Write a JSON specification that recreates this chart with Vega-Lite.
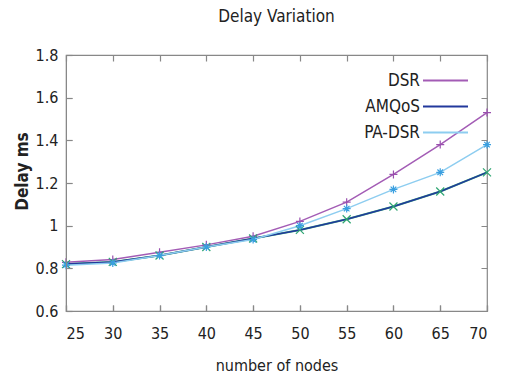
{
  "$schema": "https://vega.github.io/schema/vega-lite/v6.json",
  "width": 421,
  "height": 256,
  "autosize": "none",
  "padding": {"left": 66, "top": 55, "right": 20, "bottom": 69},
  "title": {"text": "Delay Variation", "fontSize": 17, "font": "DejaVu Sans Condensed, DejaVu Sans", "fontWeight": "normal", "color": "#222", "offset": 21, "anchor": "middle"},
  "config": {
    "view": {"stroke": "#888", "strokeWidth": 1.2},
    "font": "DejaVu Sans Condensed, DejaVu Sans"
  },
  "data": {"values": [
    {"nodes": 25, "delay": 0.828, "protocol": "DSR"},
    {"nodes": 30, "delay": 0.841, "protocol": "DSR"},
    {"nodes": 35, "delay": 0.875, "protocol": "DSR"},
    {"nodes": 40, "delay": 0.91, "protocol": "DSR"},
    {"nodes": 45, "delay": 0.95, "protocol": "DSR"},
    {"nodes": 50, "delay": 1.02, "protocol": "DSR"},
    {"nodes": 55, "delay": 1.11, "protocol": "DSR"},
    {"nodes": 60, "delay": 1.24, "protocol": "DSR"},
    {"nodes": 65, "delay": 1.38, "protocol": "DSR"},
    {"nodes": 70, "delay": 1.53, "protocol": "DSR"},
    {"nodes": 25, "delay": 0.82, "protocol": "AMQoS"},
    {"nodes": 30, "delay": 0.83, "protocol": "AMQoS"},
    {"nodes": 35, "delay": 0.86, "protocol": "AMQoS"},
    {"nodes": 40, "delay": 0.90, "protocol": "AMQoS"},
    {"nodes": 45, "delay": 0.94, "protocol": "AMQoS"},
    {"nodes": 50, "delay": 0.98, "protocol": "AMQoS"},
    {"nodes": 55, "delay": 1.03, "protocol": "AMQoS"},
    {"nodes": 60, "delay": 1.09, "protocol": "AMQoS"},
    {"nodes": 65, "delay": 1.16, "protocol": "AMQoS"},
    {"nodes": 70, "delay": 1.25, "protocol": "AMQoS"},
    {"nodes": 25, "delay": 0.815, "protocol": "PA-DSR"},
    {"nodes": 30, "delay": 0.825, "protocol": "PA-DSR"},
    {"nodes": 35, "delay": 0.86, "protocol": "PA-DSR"},
    {"nodes": 40, "delay": 0.90, "protocol": "PA-DSR"},
    {"nodes": 45, "delay": 0.935, "protocol": "PA-DSR"},
    {"nodes": 50, "delay": 1.0, "protocol": "PA-DSR"},
    {"nodes": 55, "delay": 1.08, "protocol": "PA-DSR"},
    {"nodes": 60, "delay": 1.17, "protocol": "PA-DSR"},
    {"nodes": 65, "delay": 1.25, "protocol": "PA-DSR"},
    {"nodes": 70, "delay": 1.38, "protocol": "PA-DSR"}
  ]},
  "encoding": {
    "x": {"field": "nodes", "type": "quantitative", "scale": {"domain": [25, 70], "nice": false, "zero": false},
          "axis": {"orient": "bottom", "zindex": 1, "title": "number of nodes", "titleFontSize": 16, "titleFontWeight": "normal", "titleColor": "#222", "titlePadding": 16,
                   "tickCount": 10, "tickSize": -6, "tickColor": "#888", "tickWidth": 1.2, "labelPadding": 20, "labelFontSize": 16, "labelColor": "#222", "labelFont": "DejaVu Sans Condensed, DejaVu Sans",
                   "domainColor": "#888", "grid": true, "gridColor": "#888", "gridWidth": 1.2, "gridDash": [6, 244]}},
    "y": {"field": "delay", "type": "quantitative", "scale": {"domain": [0.6, 1.8], "nice": false, "zero": false},
          "axis": {"orient": "left", "zindex": 1, "title": "Delay  ms", "titleFontSize": 17, "titleFontWeight": "bold", "titleColor": "#222", "titleX": -44, "titleY": 116, "titleAngle": 270, "titleAlign": "center", "titleBaseline": "middle",
                   "tickCount": 6, "tickSize": -6, "tickColor": "#888", "tickWidth": 1.2, "labelPadding": 14, "labelFontSize": 16, "labelColor": "#222", "labelFont": "DejaVu Sans Condensed, DejaVu Sans",
                   "labelExpr": "datum.value === 1 ? '1' : format(datum.value, '.1f')",
                   "domainColor": "#888", "grid": true, "gridColor": "#888", "gridWidth": 1.2, "gridDash": [6, 409]}}
  },
  "layer": [
    {
      "transform": [{"filter": "datum.protocol === 'AMQoS'"}],
      "mark": {"type": "line", "color": "#35a878", "strokeWidth": 2}
    },
    {
      "mark": {"type": "line", "strokeWidth": 1.5},
      "encoding": {
        "color": {"field": "protocol", "type": "nominal", "sort": ["DSR", "AMQoS", "PA-DSR"],
                  "scale": {"domain": ["DSR", "AMQoS", "PA-DSR"], "range": ["#a35cb5", "#22389c", "#8dcdf0"]},
                  "legend": {"title": null, "orient": "none", "legendX": 371, "legendY": 17, "symbolType": "M-5,0H5", "symbolSize": 81, "symbolStrokeWidth": 2, "labelAlign": "right", "labelOffset": -34, "labelFontSize": 17, "labelColor": "#222", "labelFont": "DejaVu Sans Condensed, DejaVu Sans", "rowPadding": 8, "padding": 0}}
      }
    },
    {
      "mark": {"type": "point", "filled": false, "strokeWidth": 1.2, "size": 64, "opacity": 1},
      "encoding": {
        "shape": {"condition": [
                    {"test": "datum.protocol === 'DSR'", "value": "M-1,0H1M0,-1V1"},
                    {"test": "datum.protocol === 'AMQoS'", "value": "M-1,-1L1,1M-1,1L1,-1"}],
                  "value": "M-1,0H1M0,-1V1M-0.7,-0.7L0.7,0.7M-0.7,0.7L0.7,-0.7"},
        "stroke": {"condition": [
                    {"test": "datum.protocol === 'DSR'", "value": "#9a4fae"},
                    {"test": "datum.protocol === 'AMQoS'", "value": "#2fa672"}],
                   "value": "#3a9fe0"}
      }
    }
  ]
}
